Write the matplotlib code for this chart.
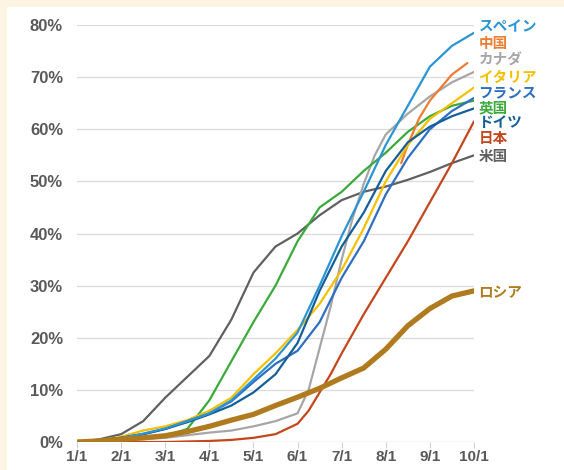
import matplotlib
matplotlib.use("Agg")
import matplotlib.pyplot as plt
from matplotlib.patches import Rectangle
from matplotlib.ticker import FuncFormatter

plt.rcParams["font.family"] = ["Noto Sans CJK JP", "DejaVu Sans"]

# month index: 0 = 1/1 ... 9 = 10/1
months = [0, 0.5, 1, 1.5, 2, 2.5, 3, 3.5, 4, 4.5, 5, 5.5, 6, 6.5, 7, 7.5, 8, 8.5, 9]
month_labels = ["1/1", "2/1", "3/1", "4/1", "5/1", "6/1", "7/1", "8/1", "9/1", "10/1"]

spain = [0, 0.3, 0.8, 1.6, 2.6, 4, 5.5, 8, 12, 16, 21, 30, 39.5, 48, 57, 64.5, 72, 76, 78.5]
italy = [0, 0.3, 1, 2.2, 3, 4.2, 6, 8.5, 13, 17, 21.5, 26.5, 33, 41, 50, 57, 62, 65, 68]
france = [0, 0.3, 0.8, 1.5, 2.5, 4, 5.5, 7.8, 11.5, 15, 17.5, 23, 31.5, 38.5, 47.5, 54.5, 60, 63.5, 66]
germany = [0, 0.3, 0.8, 1.5, 2.5, 3.8, 5.3, 7, 9.5, 13, 19, 29, 37.5, 44, 52, 57.5, 60.5, 62.5, 64]
uk = [0, 0.3, 0.5, 0.8, 1.2, 2.5, 8, 15.5, 23, 30, 38.5, 45, 48, 52, 55.5, 59.5, 62.5, 64.5, 65.5]
usa = [0, 0.5, 1.5, 4, 8.5, 12.5, 16.5, 23.5, 32.5, 37.5, 40, 43.5, 46.4, 48, 49, 50.3, 51.8, 53.5, 55]
russia = [0, 0.2, 0.5, 0.8, 1.2, 2, 3, 4.2, 5.3, 7, 8.6, 10.3, 12.3, 14.2, 17.8, 22.3, 25.6, 28, 29]

canada_m = [0, 1, 2, 3, 3.5, 4, 4.5, 5, 5.25, 5.5, 5.75, 6, 6.25, 6.5, 6.75, 7, 7.5, 8, 8.5, 9]
canada = [0, 0.3, 0.8, 1.8, 2.2, 3, 4, 5.5, 10, 18, 26, 35, 43, 49.5, 55, 59, 63, 66.3, 69, 71]

japan_m = [0, 1, 2, 3, 3.5, 4, 4.5, 5, 5.25, 5.5, 5.75, 6, 6.5, 7, 7.5, 8, 8.5, 9]
japan = [0, 0, 0, 0.2, 0.4, 0.8, 1.5, 3.5, 6, 9.5, 13, 17, 24.5, 31.5, 38.5, 46, 53.5, 61.5]

china_m = [7.35, 7.5, 7.75, 8, 8.25, 8.5, 8.85]
china = [53.5, 57, 62, 65.5, 68, 70.5, 72.7]

# name, x, y, colour, label height (%)
series = [
    ("米国", months, usa, "#606060", 54.9),
    ("カナダ", canada_m, canada, "#a6a6a6", 73.3),
    ("日本", japan_m, japan, "#c4461c", 58.3),
    ("英国", months, uk, "#3aaa3a", 64.1),
    ("中国", china_m, china, "#ed7d31", 76.5),
    ("イタリア", months, italy, "#f5c000", 70.0),
    ("フランス", months, france, "#2e6fc4", 67.1),
    ("ドイツ", months, germany, "#155f99", 61.3),
    ("スペイン", months, spain, "#2b95d4", 79.7),
]

fig = plt.figure(figsize=(5.64, 4.70), dpi=100)
fig.patch.set_facecolor("#fdf5e1")
fig.patches.append(Rectangle((7 / 564, 0), 1, 463 / 470, transform=fig.transFigure,
                             facecolor="white", edgecolor="none", zorder=-10))

ax = fig.add_axes([77 / 564, 1 - 442 / 470, 397 / 564, 417 / 470])
ax.set_facecolor("none")

for name, x, y, color, ylab in series:
    ax.plot(x, y, color=color, lw=1.6, solid_capstyle="round", zorder=3)
    ax.text(9.1, ylab, name, color=color, fontsize=10.5, fontweight="bold",
            ha="left", va="center", clip_on=False)

ax.plot(months, russia, color="#b07a1e", lw=3.8, solid_capstyle="round", zorder=4)
ax.text(9.1, 28.8, "ロシア", color="#b07a1e", fontsize=10.5, fontweight="bold",
        ha="left", va="center", clip_on=False)

ax.set_xlim(0, 9)
ax.set_ylim(0, 80)
ax.set_xticks(range(len(month_labels)))
ax.set_xticklabels(month_labels)
ax.set_yticks(range(0, 81, 10))
ax.yaxis.set_major_formatter(FuncFormatter(lambda v, _: f"{v:.0f}%"))

for s in ax.spines.values():
    s.set_visible(False)
ax.grid(axis="y", color="#dcdcdc", lw=1.0, zorder=1)
ax.tick_params(axis="y", length=0, pad=10)
ax.tick_params(axis="x", length=4, color="#d0d0d0", pad=2)
for lab in ax.get_yticklabels():
    lab.set_fontsize(12)
for lab in ax.get_xticklabels():
    lab.set_fontsize(11)
for lab in ax.get_xticklabels() + ax.get_yticklabels():
    lab.set_family(["Liberation Sans", "DejaVu Sans"])
    lab.set_fontweight("bold")
    lab.set_color("#595959")

fig.savefig("out.png", dpi=100)
